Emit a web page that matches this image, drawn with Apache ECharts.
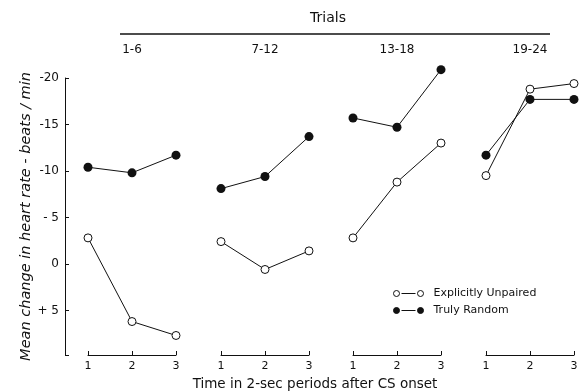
<!DOCTYPE html>
<html>
<head>
<meta charset="utf-8">
<script src="https://cdn.jsdelivr.net/npm/echarts@6/dist/echarts.min.js"></script>
<style>
  html, body { margin: 0; padding: 0; background: #fff; }
  #chart { width: 585px; height: 392px; }
</style>
</head>
<body>
<div id="chart"></div>
<script>
// data (heart-rate change, beats/min; negative = deceleration)
const periods = [1, 2, 3]
const trialBlocks = ['1-6', '7-12', '13-18', '19-24']
const yTicks = [-20, -15, -10, -5, 0, 5]
const yTickText = ['-20', '-15', '-10', '- 5', '0', '+ 5']

// one array per trial block
const explicitlyUnpaired = [
  [-2.8, 6.2, 7.7],
  [-2.4, 0.6, -1.4],
  [-2.8, -8.8, -13.0],
  [-9.5, -18.8, -19.4],
]
const trulyRandom = [
  [-10.4, -9.8, -11.7],
  [-8.1, -9.4, -13.7],
  [-15.7, -14.7, -20.9],
  [-11.7, -17.7, -17.7],
]

const INK = '#111'
const FONT = 'DejaVu Sans'
const gridLefts = [88, 221, 353, 486]
const gridWidth = 88

const chart = echarts.init(document.getElementById('chart'), null, { renderer: 'canvas' })

const grids = gridLefts.map((l) => ({ left: l, width: gridWidth, top: 78, bottom: 37 }))

const xAxes = gridLefts.map((l, i) => ({
  type: 'value',
  gridIndex: i,
  min: 1,
  max: 3,
  interval: 1,
  axisLine: { show: true, onZero: false, lineStyle: { color: INK, width: 1 } },
  axisTick: { show: true, inside: true, length: 4, lineStyle: { color: INK } },
  axisLabel: { color: INK, fontFamily: FONT, fontSize: 11, margin: 6,
    formatter: (v) => (periods.includes(v) ? String(v) : '') },
  splitLine: { show: false },
}))

const yAxes = gridLefts.map((l, i) => ({
  type: 'value',
  gridIndex: i,
  show: i === 0,
  min: -20,
  max: 9.8,
  interval: 5,
  inverse: true,
  offset: 23,
  name: i === 0 ? 'Mean change in heart rate - beats / min' : '',
  nameLocation: 'middle',
  nameGap: 31,
  nameTextStyle: { color: INK, fontFamily: FONT, fontSize: 14.5, fontStyle: 'italic' },
  axisLine: { show: true, onZero: false, lineStyle: { color: INK, width: 1 } },
  axisTick: { show: true, inside: true, length: 4, lineStyle: { color: INK } },
  axisLabel: { color: INK, fontFamily: FONT, fontSize: 12, margin: 6,
    formatter: (v) => {
      const k = yTicks.indexOf(v)
      return k >= 0 ? yTickText[k] : ''
    } },
  splitLine: { show: false },
}))

const series = []
trialBlocks.forEach((b, i) => {
  series.push({
    name: 'Explicitly Unpaired',
    type: 'line',
    xAxisIndex: i,
    yAxisIndex: i,
    clip: false,
    symbol: 'circle',
    symbolSize: 8,
    lineStyle: { color: INK, width: 1 },
    itemStyle: { color: '#fff', borderColor: INK, borderWidth: 1 },
    data: periods.map((p, j) => [p, explicitlyUnpaired[i][j]]),
  })
  series.push({
    name: 'Truly Random',
    type: 'line',
    xAxisIndex: i,
    yAxisIndex: i,
    clip: false,
    symbol: 'circle',
    symbolSize: 9,
    lineStyle: { color: INK, width: 1 },
    itemStyle: { color: INK, borderColor: INK, borderWidth: 0 },
    data: periods.map((p, j) => [p, trulyRandom[i][j]]),
  })
})

// header: "Trials" bar and block labels
const centers = gridLefts.map((l) => l + gridWidth / 2)
const graphics = [
  { type: 'text', x: 328, y: 18,
    style: { text: 'Trials', fill: INK, font: '14px "DejaVu Sans"', textAlign: 'center', textVerticalAlign: 'middle' } },
  { type: 'line', shape: { x1: 120, y1: 34, x2: 550, y2: 34 }, style: { stroke: INK, lineWidth: 1.5 } },
  { type: 'text', x: 315, y: 384,
    style: { text: 'Time in 2-sec periods after CS onset', fill: INK, font: '13.5px "DejaVu Sans"', textAlign: 'center', textVerticalAlign: 'middle' } },
]
trialBlocks.forEach((b, i) => {
  graphics.push({ type: 'text', x: centers[i], y: 50,
    style: { text: b, fill: INK, font: '12px "DejaVu Sans"', textAlign: 'center', textVerticalAlign: 'middle' } })
})

const legendIcon = 'path://M0,3a3,3 0 1,0 6,0a3,3 0 1,0 -6,0zM8,3L22,3M24,3a3,3 0 1,0 6,0a3,3 0 1,0 -6,0z'

const option = {
  animation: false,
  backgroundColor: '#fff',
  grid: grids,
  xAxis: xAxes,
  yAxis: yAxes,
  legend: {
    data: [
      { name: 'Explicitly Unpaired', icon: legendIcon,
        itemStyle: { color: '#fff', borderColor: INK, borderWidth: 1 } },
      { name: 'Truly Random', icon: legendIcon,
        itemStyle: { color: INK, borderColor: INK, borderWidth: 1 } },
    ],
    orient: 'vertical',
    left: 388,
    top: 283,
    itemWidth: 30,
    itemHeight: 6,
    itemGap: 6,
    textStyle: { color: INK, fontFamily: FONT, fontSize: 11, padding: [0, 0, 0, 5] },
    selectedMode: false,
  },
  graphic: graphics,
  series: series,
}

chart.setOption(option)
</script>
</body>
</html>
